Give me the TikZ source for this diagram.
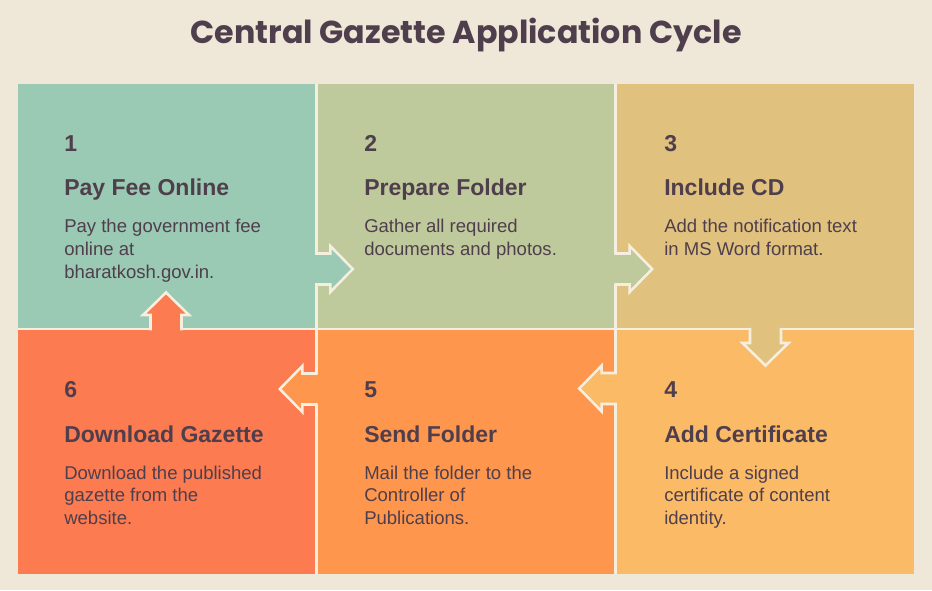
\documentclass[tikz,border=0pt]{standalone}
\usepackage{fontspec}
\setmainfont{Liberation Sans}
\newfontfamily\titlefont{Poppins}
\definecolor{bg}{HTML}{EFE8D8}
\definecolor{sepc}{HTML}{F6EFDF}
\definecolor{tc}{HTML}{4F3E4C}
\definecolor{c1}{HTML}{9AC9B4}
\definecolor{c2}{HTML}{BFCA9C}
\definecolor{c3}{HTML}{E0C27E}
\definecolor{c4}{HTML}{FBBA66}
\definecolor{c5}{HTML}{FE964D}
\definecolor{c6}{HTML}{FC7B50}
\newcommand\flowarrow[3]{%
  \begin{scope}[shift={(#1)}, rotate=#2]
    \fill[#3] (-4,-15.5) -- (14,-15.5) -- (14,-23) -- (36.5,0) -- (14,23) -- (14,15.5) -- (-4,15.5) -- cycle;
    \draw[arrowline] (-1.25,-15.5) -- (14,-15.5) -- (14,-23) -- (36.5,0) -- (14,23) -- (14,15.5) -- (-1.25,15.5);
  \end{scope}}
\begin{document}
\begin{tikzpicture}[x=0.75pt,y=-0.75pt,
  panel/.style={draw=sepc, line width=1.9pt, minimum width=224.5pt, minimum height=184.9pt, inner sep=0pt, outer sep=0pt},
  arrowline/.style={draw=sepc, line width=1.9pt, line join=miter, line cap=butt},
  num/.style={anchor=base west, inner sep=0pt, text=tc, font=\fontsize{17.25}{20}\selectfont\bfseries},
  head/.style={anchor=base west, inner sep=0pt, text=tc, font=\fontsize{17.25}{20}\selectfont\bfseries},
  body/.style={anchor=base west, inner sep=0pt, align=left, text=tc, font=\fontsize{13.9}{16.9}\selectfont}]
\useasboundingbox[fill=bg] (0,0) rectangle (932,590);
\node[font=\titlefont\bfseries\fontsize{23.8}{28}\selectfont, text=tc, anchor=base] (title) at (466,43) {Central Gazette Application Cycle};
% panels
\node[panel, fill=c1] (p1) at (166.67,205.75) {};
\node[panel, fill=c2] (p2) at (466,205.75) {};
\node[panel, fill=c3] (p3) at (765.33,205.75) {};
\node[panel, fill=c4] (p4) at (765.33,452.25) {};
\node[panel, fill=c5] (p5) at (466,452.25) {};
\node[panel, fill=c6] (p6) at (166.67,452.25) {};
\draw[bg, line width=1.9pt] (p1.north west) rectangle (p4.south east);
% arrow roots
\coordinate (a12) at (316.3,269);
\coordinate (a23) at (615.7,269);
\coordinate (a34) at (765.5,329);
\coordinate (a45) at (615.7,388.5);
\coordinate (a56) at (316.3,389);
\coordinate (a61) at (166,329);
\flowarrow{a12}{0}{c1}
\flowarrow{a23}{0}{c2}
\flowarrow{a34}{-90}{c3}
\flowarrow{a45}{180}{c4}
\flowarrow{a56}{180}{c5}
\flowarrow{a61}{90}{c6}
% texts (body nodes anchored at the baseline of their last line)
\node[num] (n1) at (64,151) {1};
\node[head] (h1) at (64,195.5) {Pay Fee Online};
\node[body] (b1) at (64,278) {Pay the government fee\\online at\\bharatkosh.gov.in.};
\node[num] (n2) at (364,151) {2};
\node[head] (h2) at (364,195.5) {Prepare Folder};
\node[body] (b2) at (364,255.5) {Gather all required\\documents and photos.};
\node[num] (n3) at (664,151) {3};
\node[head] (h3) at (664,195.5) {Include CD};
\node[body] (b3) at (664,255.5) {Add the notification text\\in MS Word format.};
\node[num] (n4) at (664,397) {4};
\node[head] (h4) at (664,442.5) {Add Certificate};
\node[body] (b4) at (664,524.5) {Include a signed\\certificate of content\\identity.};
\node[num] (n5) at (364,397) {5};
\node[head] (h5) at (364,442.5) {Send Folder};
\node[body] (b5) at (364,524.5) {Mail the folder to the\\Controller of\\Publications.};
\node[num] (n6) at (64,397) {6};
\node[head] (h6) at (64,442.5) {Download Gazette};
\node[body] (b6) at (64,524.5) {Download the published\\gazette from the\\website.};
\end{tikzpicture}
\end{document}
